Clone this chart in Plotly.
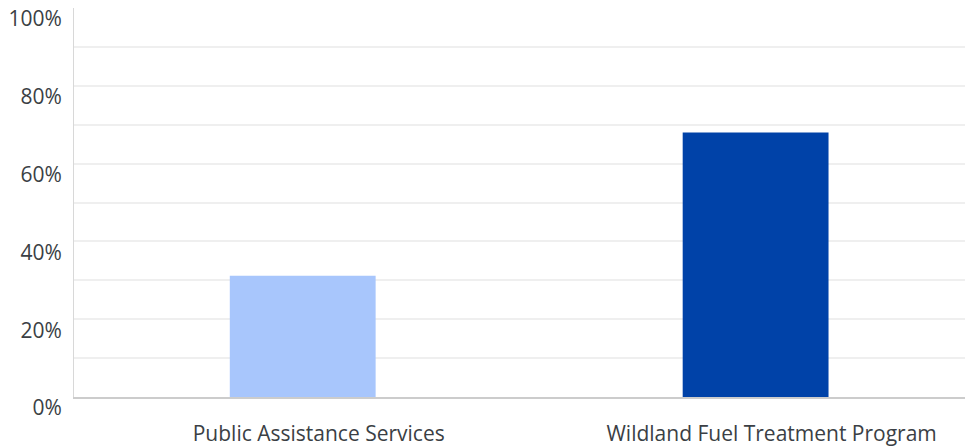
import plotly.graph_objects as go

categories = ["Public Assistance Services", "Wildland Fuel Treatment Program"]
values = [31.2, 68.0]
bar_colors = ["#a8c6fc", "#0042a8"]
tick_vals = [0, 20, 40, 60, 80, 100]
tick_text = ["0%", "20%", "40%", "60%", "80%", "100%"]

fig = go.Figure(
    go.Bar(
        x=categories,
        y=values,
        marker=dict(color=bar_colors, line=dict(width=0)),
        width=0.322,
        hoverinfo="x+y",
    )
)

# page body adds an 8px offset, so the figure is sized to fit inside it
fig.update_layout(
    width=965,
    height=440,
    margin=dict(l=66, r=0, t=0, b=51),
    paper_bgcolor="white",
    plot_bgcolor="white",
    showlegend=False,
    font=dict(family="Open Sans", size=21, color="#3b3f45"),
    xaxis=dict(
        range=[-0.505, 1.48],
        automargin=False,
        showgrid=False,
        showline=True,
        linecolor="#cccccc",
        linewidth=2,
        ticks="",
        ticklabelstandoff=17,
        ticklabelshift=16,
        tickfont=dict(size=21),
    ),
    yaxis=dict(
        range=[0, 100.01],
        automargin=False,
        tickvals=tick_vals,
        ticktext=tick_text,
        showgrid=True,
        gridcolor="#efefef",
        gridwidth=2,
        showline=True,
        linecolor="#d8d8d8",
        linewidth=1,
        zeroline=False,
        ticks="",
        ticklabelshift=11,
        ticklabelstandoff=7,
        ticklabeloverflow="allow",
        tickfont=dict(size=21),
        # minor gridlines every 10%, labels every 20%
        minor=dict(dtick=10, showgrid=True, gridcolor="#efefef", gridwidth=2),
    ),
)

fig.write_html("out.html")
